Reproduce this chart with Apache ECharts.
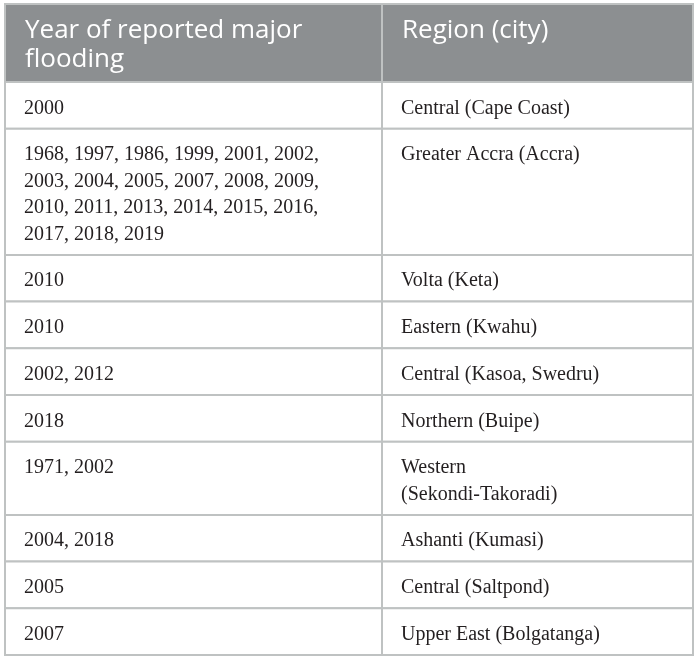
<!DOCTYPE html>
<html>
<head>
<meta charset="utf-8">
<title>Reported major flooding by region</title>
<script src="https://cdn.jsdelivr.net/npm/echarts@6.0.0/dist/echarts.min.js"></script>
<style>
  html, body { margin: 0; padding: 0; background: #fff; }
  #main { width: 699px; height: 662px; }
</style>
</head>
<body>
<div id="main"></div>
<script>
// table content, one entry per row (line breaks as in the source)
var headers = ['Year of reported major\nflooding', 'Region (city)'];
var years = [
    '2000',
    '1968, 1997, 1986, 1999, 2001, 2002,\n2003, 2004, 2005, 2007, 2008, 2009,\n2010, 2011, 2013, 2014, 2015, 2016,\n2017, 2018, 2019',
    '2010',
    '2010',
    '2002, 2012',
    '2018',
    '1971, 2002',
    '2004, 2018',
    '2005',
    '2007'
];
var regions = [
    'Central (Cape Coast)',
    'Greater Accra (Accra)',
    'Volta (Keta)',
    'Eastern (Kwahu)',
    'Central (Kasoa, Swedru)',
    'Northern (Buipe)',
    'Western\n(Sekondi-Takoradi)',
    'Ashanti (Kumasi)',
    'Central (Saltpond)',
    'Upper East (Bolgatanga)'
];

// layout / style
var COL_EDGES = [0, 377, 688];     // x-axis units (column widths)
var HEADER_BASE = 49, HEADER_LINE = 29;
var ROW_BASE = 46.7, ROW_LINE = 26.5;
var PAD_X = 19;
var BORDER = '#bfc2c2';
var HEADER_BG = '#8c8f91';

function nLines(s) { return s.split('\n').length; }

// row edges in y-axis units, from line counts
var rowEdges = [0];
var hLines = Math.max(nLines(headers[0]), nLines(headers[1]));
rowEdges.push(HEADER_BASE + HEADER_LINE * (hLines - 1));
for (var i = 0; i < years.length; i++) {
    var l = Math.max(nLines(years[i]), nLines(regions[i]));
    rowEdges.push(rowEdges[rowEdges.length - 1] + ROW_BASE + ROW_LINE * (l - 1));
}
var total = rowEdges[rowEdges.length - 1];

var cells = [];
var cellText = [];
for (var r = 0; r <= years.length; r++) {
    for (var c = 0; c < 2; c++) {
        cells.push([c, r]);
        if (r === 0) cellText.push(headers[c]);
        else cellText.push(c === 0 ? years[r - 1] : regions[r - 1]);
    }
}

var chart = echarts.init(document.getElementById('main'));

chart.setOption({
    animation: false,
    grid: { left: 5, top: 4, width: COL_EDGES[2], height: total },
    xAxis: { type: 'value', min: 0, max: COL_EDGES[2], show: false },
    yAxis: { type: 'value', min: 0, max: total, inverse: true, show: false },
    series: [{
        type: 'custom',
        data: cells,
        renderItem: function (params, api) {
            var col = api.value(0), row = api.value(1);
            var p0 = api.coord([COL_EDGES[col], rowEdges[row]]);
            var p1 = api.coord([COL_EDGES[col + 1], rowEdges[row + 1]]);
            var isHead = row === 0;
            return {
                type: 'group',
                children: [{
                    type: 'rect',
                    shape: { x: p0[0], y: p0[1], width: p1[0] - p0[0], height: p1[1] - p0[1] },
                    style: { fill: isHead ? HEADER_BG : '#ffffff', stroke: BORDER, lineWidth: 2 }
                }, {
                    type: 'text',
                    style: {
                        x: p0[0] + PAD_X + (isHead ? 1 : 0),
                        y: p0[1] + (isHead ? 12 : 13),
                        text: cellText[params.dataIndex],
                        fill: isHead ? '#ffffff' : '#231f20',
                        font: isHead ? '26px "Open Sans"' : '20px "Liberation Serif"',
                        lineHeight: isHead ? HEADER_LINE : ROW_LINE,
                        verticalAlign: 'top',
                        align: 'left'
                    }
                }]
            };
        }
    }]
});
</script>
</body>
</html>
